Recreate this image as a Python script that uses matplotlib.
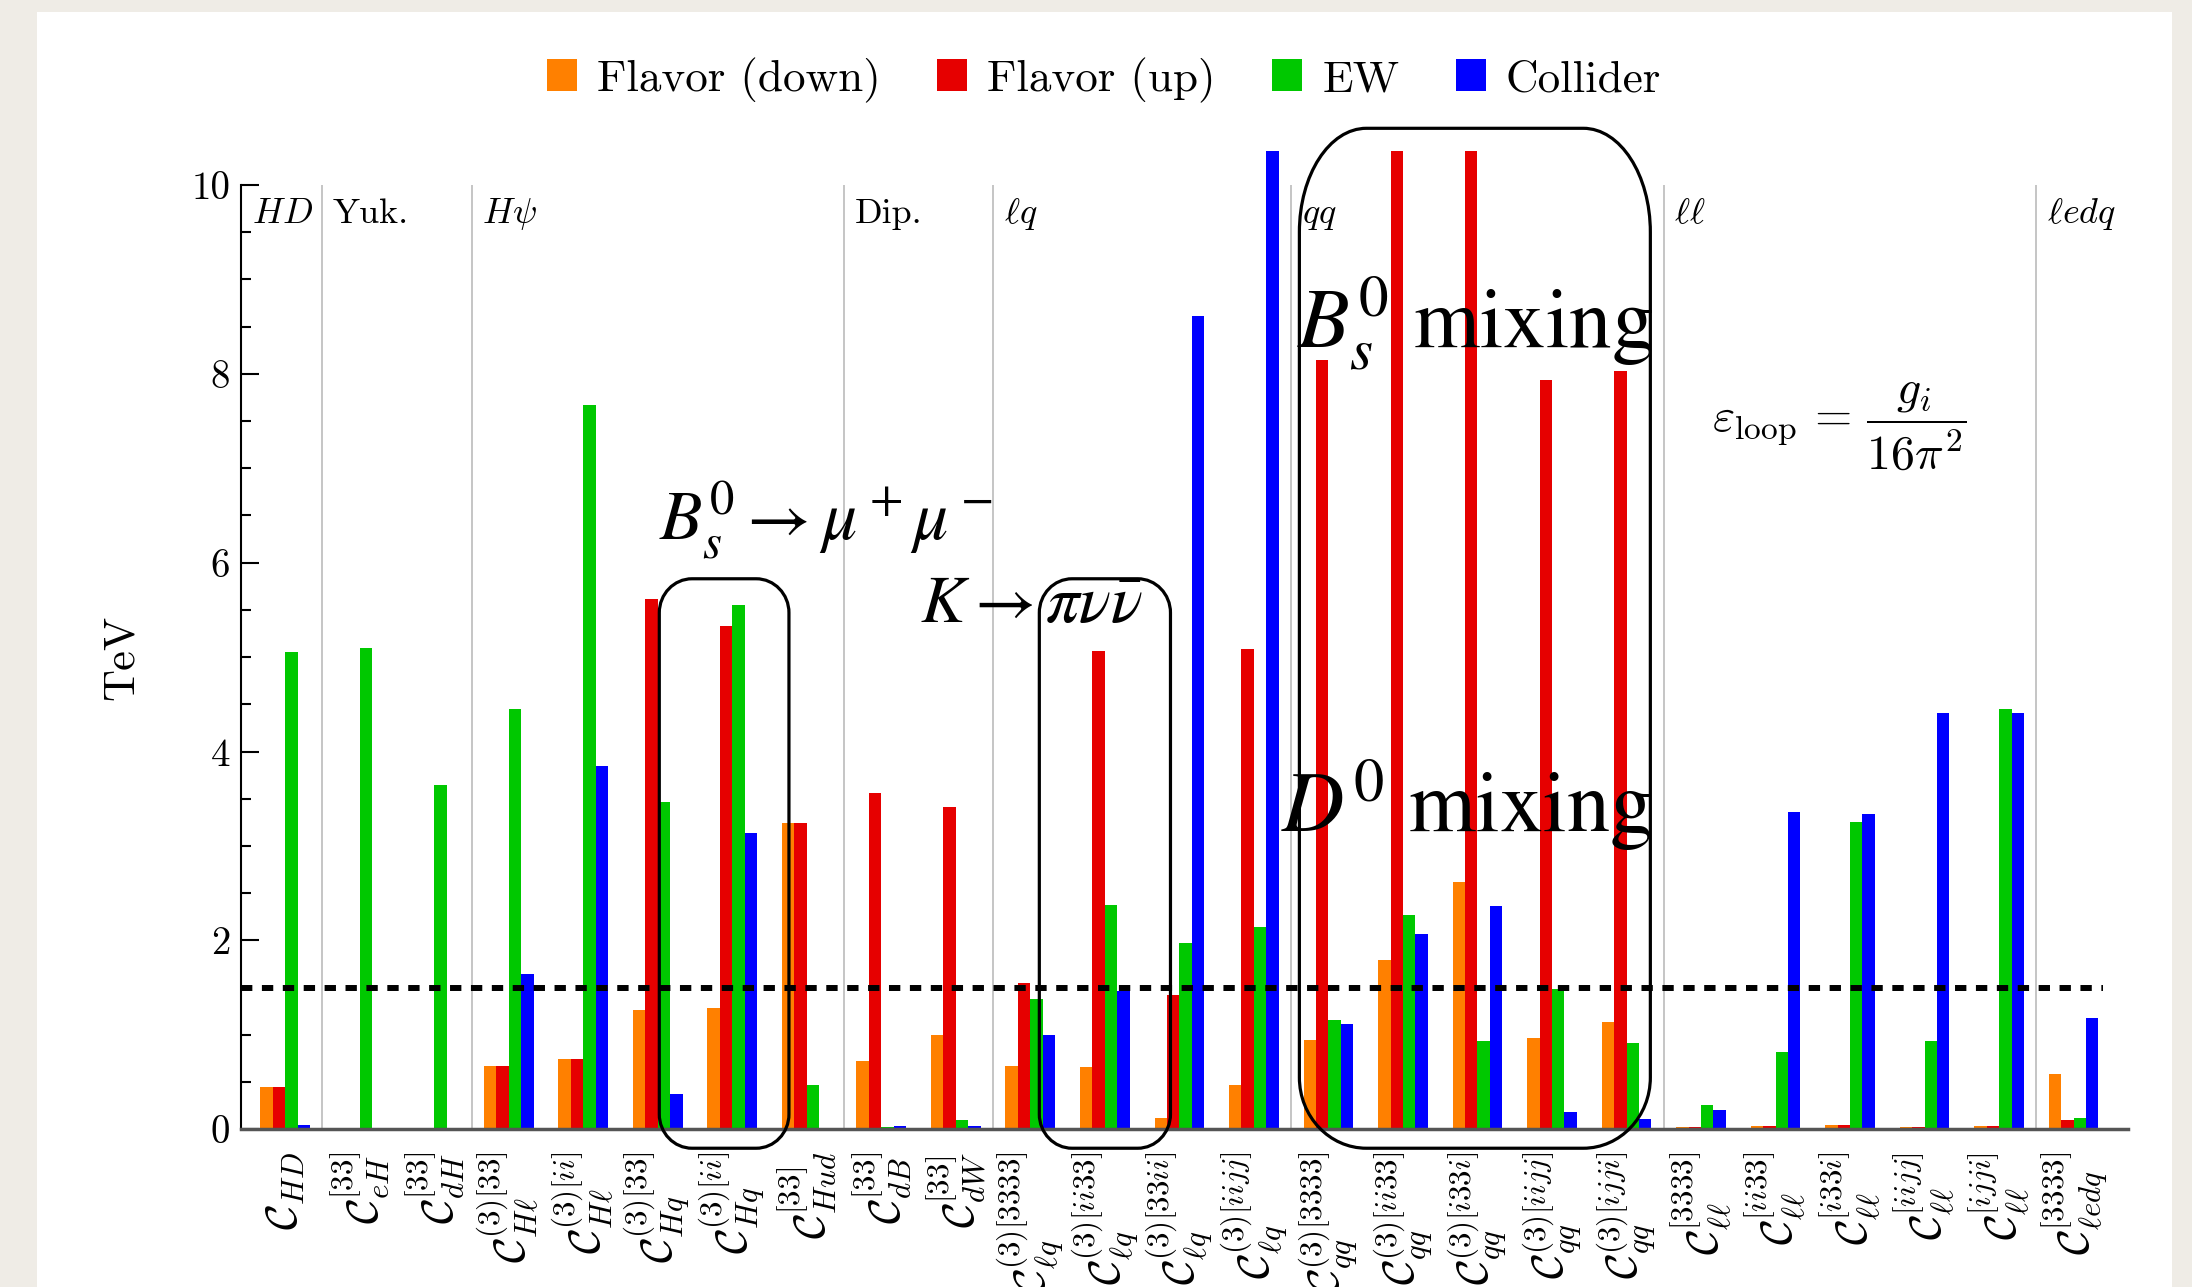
import matplotlib
matplotlib.use("Agg")
import matplotlib.pyplot as plt
from matplotlib.patches import Patch, PathPatch, Rectangle
from matplotlib.path import Path
import numpy as np

plt.rcParams["font.family"] = "cmr10"
plt.rcParams["mathtext.fontset"] = "cm"
plt.rcParams["axes.formatter.use_mathtext"] = True

# operator labels (x axis)
labels = [
    r"$\mathcal{C}_{HD}$",
    r"$\mathcal{C}_{eH}^{[33]}$",
    r"$\mathcal{C}_{dH}^{[33]}$",
    r"$\mathcal{C}_{H\ell}^{(3)[33]}$",
    r"$\mathcal{C}_{H\ell}^{(3)[ii]}$",
    r"$\mathcal{C}_{Hq}^{(3)[33]}$",
    r"$\mathcal{C}_{Hq}^{(3)[ii]}$",
    r"$\mathcal{C}_{Hud}^{[33]}$",
    r"$\mathcal{C}_{dB}^{[33]}$",
    r"$\mathcal{C}_{dW}^{[33]}$",
    r"$\mathcal{C}_{\ell q}^{(3)[3333]}$",
    r"$\mathcal{C}_{\ell q}^{(3)[ii33]}$",
    r"$\mathcal{C}_{\ell q}^{(3)[33ii]}$",
    r"$\mathcal{C}_{\ell q}^{(3)[iijj]}$",
    r"$\mathcal{C}_{qq}^{(3)[3333]}$",
    r"$\mathcal{C}_{qq}^{(3)[ii33]}$",
    r"$\mathcal{C}_{qq}^{(3)[i33i]}$",
    r"$\mathcal{C}_{qq}^{(3)[iijj]}$",
    r"$\mathcal{C}_{qq}^{(3)[ijji]}$",
    r"$\mathcal{C}_{\ell\ell}^{[3333]}$",
    r"$\mathcal{C}_{\ell\ell}^{[ii33]}$",
    r"$\mathcal{C}_{\ell\ell}^{[i33i]}$",
    r"$\mathcal{C}_{\ell\ell}^{[iijj]}$",
    r"$\mathcal{C}_{\ell\ell}^{[ijji]}$",
    r"$\mathcal{C}_{\ell edq}^{[3333]}$",
]

# bounds in TeV (bars reaching the top are clipped in the original)
flavor_down = [0.45, 0.01, 0.01, 0.67, 0.74, 1.26, 1.29, 3.24, 0.72, 1.00,
               0.67, 0.66, 0.12, 0.47, 0.95, 1.79, 2.62, 0.97, 1.14,
               0.02, 0.04, 0.05, 0.03, 0.04, 0.59]
flavor_up = [0.45, 0.01, 0.01, 0.67, 0.74, 5.62, 5.33, 3.24, 3.56, 3.41,
             1.55, 5.07, 1.42, 5.09, 8.15, 10.4, 10.4, 7.93, 8.03,
             0.02, 0.04, 0.05, 0.03, 0.04, 0.10]
ew = [5.05, 5.10, 3.65, 4.45, 7.67, 3.47, 5.55, 0.47, 0.02, 0.10,
      1.38, 2.38, 1.97, 2.14, 1.16, 2.27, 0.94, 1.49, 0.91,
      0.26, 0.82, 3.25, 0.94, 4.45, 0.12]
collider = [0.05, 0.01, 0.01, 1.65, 3.85, 0.37, 3.14, 0.01, 0.04, 0.04,
            1.00, 1.46, 8.61, 10.4, 1.12, 2.07, 2.36, 0.18, 0.11,
            0.20, 3.36, 3.34, 4.41, 4.41, 1.18]

series = [
    ("Flavor (down)", flavor_down, "#FF8000"),
    ("Flavor (up)", flavor_up, "#E60000"),
    ("EW", ew, "#00C800"),
    ("Collider", collider, "#0000FF"),
]

# operator classes: label, left boundary (in category units)
group_names = [r"$HD$", "Yuk.", r"$H\psi$", "Dip.", r"$\ell q$", r"$qq$", r"$\ell\ell$", r"$\ell edq$"]
group_starts = [-0.589, 0.5, 2.5, 7.5, 9.5, 13.5, 18.5, 23.5]

threshold = 1.5

BEIGE = "#EFECE6"


def rounded_box(ax, x0, x1, y0, y1, rx, ry_top, ry_bot, lw=2.3):
    k = 0.5523
    verts = [
        (x0, y0 + ry_bot), (x0, y1 - ry_top),
        (x0, y1 - ry_top * (1 - k)), (x0 + rx * (1 - k), y1), (x0 + rx, y1),
        (x1 - rx, y1),
        (x1 - rx * (1 - k), y1), (x1, y1 - ry_top * (1 - k)), (x1, y1 - ry_top),
        (x1, y0 + ry_bot),
        (x1, y0 + ry_bot * (1 - k)), (x1 - rx * (1 - k), y0), (x1 - rx, y0),
        (x0 + rx, y0),
        (x0 + rx * (1 - k), y0), (x0, y0 + ry_bot * (1 - k)), (x0, y0 + ry_bot),
        (x0, y0 + ry_bot),
    ]
    codes = [Path.MOVETO, Path.LINETO,
             Path.CURVE4, Path.CURVE4, Path.CURVE4,
             Path.LINETO,
             Path.CURVE4, Path.CURVE4, Path.CURVE4,
             Path.LINETO,
             Path.CURVE4, Path.CURVE4, Path.CURVE4,
             Path.LINETO,
             Path.CURVE4, Path.CURVE4, Path.CURVE4,
             Path.CLOSEPOLY]
    ax.add_patch(PathPatch(Path(verts, codes), fill=False, ec="black", lw=lw,
                           clip_on=False, zorder=6))


fig = plt.figure(figsize=(21.92, 12.87), dpi=100, facecolor=BEIGE)
fig.add_artist(Rectangle((0.0169, 0.0), 0.974, 0.9907, transform=fig.transFigure,
                         facecolor="white", edgecolor="none", zorder=0))

ax = fig.add_axes([0.1101, 0.1225, 0.8607, 0.7602])
ax.set_facecolor("white")

x = np.arange(len(labels))
w = 0.167
for k, (name, vals, color) in enumerate(series):
    ax.bar(x + (k - 1.5) * w, vals, width=w, color=color, linewidth=0, zorder=3, label=name)

# section dividers and labels
for name, x0 in zip(group_names, group_starts):
    if x0 > 0:
        ax.vlines(x0, 0, 10, color="#BBBBBB", lw=1.2, zorder=1)
    ax.text(x0 + 0.14, 9.6, name, fontsize=26, va="baseline", ha="left", zorder=4)

ax.hlines(threshold, -0.589, 24.4, color="black", lw=4.3, linestyles=(0, (1.9, 1.6)), zorder=5)

ax.set_xlim(-0.589, 24.73)
ax.set_ylim(0, 10.36)
ax.set_xticks(x)
ax.set_xticklabels(labels, rotation=90, fontsize=32)
ax.tick_params(axis="x", length=0, pad=16)
ax.set_yticks([0, 2, 4, 6, 8, 10])
ax.set_yticklabels(["0", "2", "4", "6", "8", "10"], fontsize=28)
ax.set_yticks(np.arange(0, 10.01, 0.5), minor=True)
ax.tick_params(axis="y", which="major", direction="in", length=13, width=1.5, pad=8)
ax.tick_params(axis="y", which="minor", direction="in", length=7.5, width=1.5)
ax.spines["top"].set_visible(False)
ax.spines["right"].set_visible(False)
ax.spines["left"].set_bounds(0, 10)
ax.spines["left"].set_linewidth(1.5)
ax.spines["bottom"].set_linewidth(2.5)
ax.spines["bottom"].set_color("#555555")
ax.spines["bottom"].set_zorder(4)

# highlighted constraints
rounded_box(ax, 5.02, 6.76, -0.2, 5.83, 0.44, 0.36, 0.36)
rounded_box(ax, 10.12, 11.88, -0.2, 5.83, 0.44, 0.36, 0.36)
rounded_box(ax, 13.61, 18.32, -0.2, 10.6, 0.9, 1.1, 0.75)

stix = dict(family="STIXGeneral", math_fontfamily="stix", va="baseline", ha="left", zorder=7)
ax.text(5.02, 6.24, r"$B_s^0 \to \mu^+\mu^-$", fontsize=50, **stix)
ax.text(8.52, 5.37, r"$K \to \pi\nu\bar{\nu}$", fontsize=48, **stix)
ax.text(13.58, 8.28, r"$B_s^0$ mixing", fontsize=61, **stix)
ax.text(13.37, 3.15, r"$D^0$ mixing", fontsize=62, **stix)
ax.text(19.15, 7.45, r"$\varepsilon_{\mathrm{loop}}\,=\,\dfrac{g_i}{16\pi^2}$", fontsize=34.5,
        va="center", ha="left", zorder=7)

fig.text(0.0554, 0.4895, "TeV", rotation=90, fontsize=32, ha="center", va="center")

handles = [Patch(facecolor=c, edgecolor="none") for _, _, c in series]
fig.legend(handles, [n for n, _, _ in series], loc="center", bbox_to_anchor=(0.5037, 0.9378),
           ncol=4, frameon=False, fontsize=32.5, handlelength=0.66, handleheight=0.7,
           handletextpad=0.45, columnspacing=1.25)

fig.savefig("out.png", dpi=100, facecolor=fig.get_facecolor())
